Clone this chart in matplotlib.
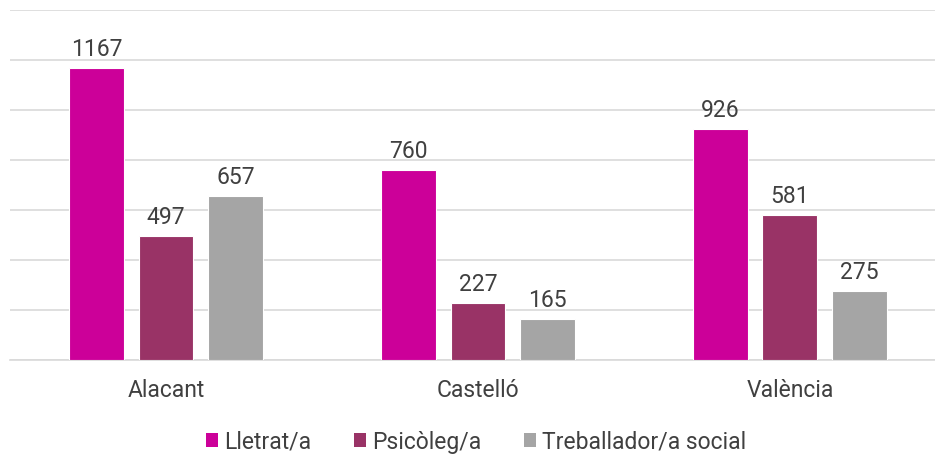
import matplotlib
matplotlib.use("Agg")
import matplotlib.pyplot as plt
import numpy as np
from matplotlib.patches import Patch

plt.rcParams["font.family"] = ["Roboto", "DejaVu Sans"]

categories = ["Alacant", "Castelló", "València"]
series_names = ["Lletrat/a", "Psicòleg/a", "Treballador/a social"]
lletrat = [1167, 760, 926]
psicoleg = [497, 227, 581]
treballador = [657, 165, 275]
colors = ["#CC0099", "#993366", "#A5A5A5"]

text_color = "#404040"
fs = 16.5

fig = plt.figure(figsize=(9.35, 4.57), dpi=100)
ax = fig.add_axes([10 / 935, 97 / 457, 925 / 935, 350 / 457])

x = np.arange(len(categories))
width = 0.176
pitch = 0.223
for i, (vals, name) in enumerate(zip([lletrat, psicoleg, treballador], series_names)):
    pos = x + (i - 1) * pitch
    bars = ax.bar(pos, vals, width, color=colors[i], edgecolor="white", linewidth=0.8,
                  zorder=3, label=name)
    for b, v in zip(bars, vals):
        ax.annotate(str(v), (b.get_x() + b.get_width() / 2, v), xytext=(0, 5),
                    textcoords="offset points", ha="center", va="bottom",
                    fontsize=fs, color=text_color)

ax.set_ylim(0, 1400)
ax.set_yticks(np.arange(0, 1401, 200))
ax.set_xlim(-0.5, 2.465)
ax.yaxis.grid(True, color="#D9D9D9", linewidth=1.2, zorder=0)
ax.tick_params(axis="y", left=False, labelleft=False)
ax.tick_params(axis="x", length=0, pad=14, labelsize=fs, labelcolor=text_color)
ax.set_xticks(x)
ax.set_xticklabels(categories)
for s in ["top", "right", "left"]:
    ax.spines[s].set_visible(False)
ax.spines["bottom"].set_color("#D9D9D9")
ax.spines["bottom"].set_linewidth(1.2)

handles = [Patch(facecolor=c, label=n) for c, n in zip(colors, series_names)]
fig.legend(handles=handles, loc="center", bbox_to_anchor=(476 / 935, 1 - 442 / 457), ncol=3,
           frameon=False, fontsize=fs, labelcolor=text_color, handlelength=0.55,
           handleheight=0.55, handletextpad=0.25, columnspacing=1.85)

fig.savefig("out.png", dpi=100)
